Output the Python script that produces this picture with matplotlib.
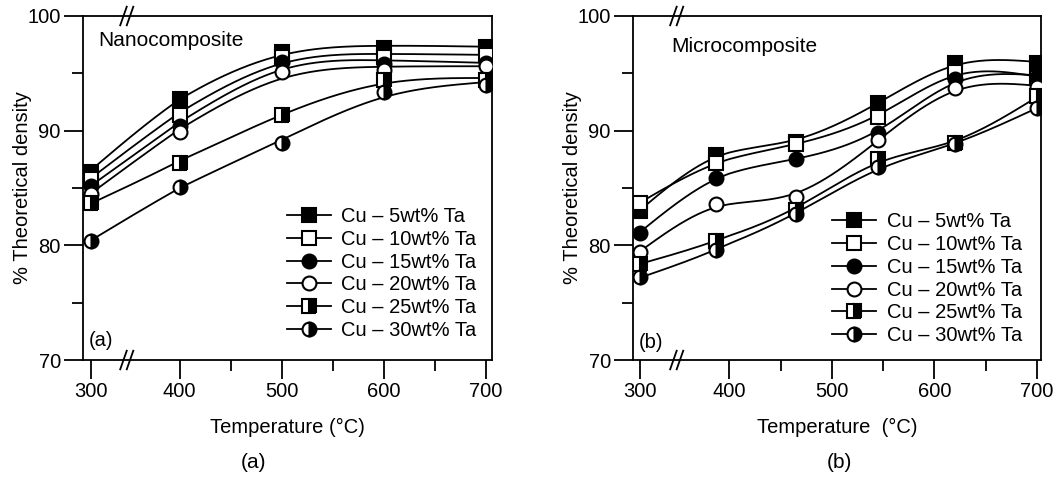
import numpy as np
import matplotlib
matplotlib.use('Agg')
import matplotlib.pyplot as plt

plt.rcParams['font.family'] = ['Liberation Sans', 'DejaVu Sans']

# nanocomposite (a)
temp_nano = [300, 400, 500, 600, 700]
nano_5 = [86.4, 92.8, 96.9, 97.2, 97.3]
nano_10 = [85.8, 91.4, 96.4, 96.4, 96.6]
nano_15 = [85.2, 90.4, 96.0, 95.8, 95.9]
nano_20 = [84.5, 89.9, 95.1, 95.3, 95.6]
nano_25 = [83.7, 87.2, 91.4, 94.4, 94.4]
nano_30 = [80.4, 85.1, 88.9, 93.4, 94.0]

# microcomposite (b)
temp_micro = [300, 385, 465, 545, 620, 700]
micro_5 = [83.0, 87.9, 89.0, 92.4, 95.9, 95.9]
micro_10 = [83.7, 87.2, 88.8, 91.2, 95.1, 94.6]
micro_15 = [81.1, 85.9, 87.5, 89.8, 94.5, 94.7]
micro_20 = [79.4, 83.6, 84.2, 89.2, 93.7, 93.8]
micro_25 = [78.4, 80.4, 83.1, 87.5, 88.9, 93.0]
micro_30 = [77.2, 79.6, 82.7, 86.8, 88.8, 92.0]

labels = ['Cu – 5wt% Ta', 'Cu – 10wt% Ta', 'Cu – 15wt% Ta',
          'Cu – 20wt% Ta', 'Cu – 25wt% Ta', 'Cu – 30wt% Ta']

STYLES = [
    dict(marker='s', markerfacecolor='black'),
    dict(marker='s', markerfacecolor='white'),
    dict(marker='o', markerfacecolor='black'),
    dict(marker='o', markerfacecolor='white'),
    dict(marker='s', markerfacecolor='black', fillstyle='right', markerfacecoloralt='white'),
    dict(marker='o', markerfacecolor='black', fillstyle='right', markerfacecoloralt='white'),
]

SQUEEZE = 0.87  # axis break between 300 and 400


def fwd(x):
    x = np.asarray(x, dtype=float)
    return np.where(x >= 400, x, 400 - (400 - x) * SQUEEZE)


def inv(t):
    t = np.asarray(t, dtype=float)
    return np.where(t >= 400, t, 400 - (400 - t) / SQUEEZE)


def smooth_fit(x, y, lam, n=201):
    # penalised least squares (smoothing spline on a fine grid)
    x = np.asarray(x, float)
    y = np.asarray(y, float)
    u = np.linspace(0, 1, n)
    xu = (x - x[0]) / (x[-1] - x[0])
    idx = np.round(xu * (n - 1)).astype(int)
    dx = 1.0 / (n - 1)
    W = np.zeros((n, n))
    b = np.zeros(n)
    W[idx, idx] = 1
    b[idx] = y
    D = np.diff(np.eye(n), 2, axis=0) / dx**2
    f = np.linalg.solve(W + lam * dx * D.T @ D, b)
    return x[0] + u * (x[-1] - x[0]), f


def break_marks(ax):
    for y0 in (0, 1):
        for dx in (0.0, 0.016):
            ax.plot([0.091 + dx, 0.107 + dx], [y0 - 0.027, y0 + 0.027],
                    transform=ax.transAxes, color='black', lw=1.3, clip_on=False)


def panel(ax, temps, series, lam, xlim, title, title_xy, tag, tag_y, leg_xy, xlabel):
    ax.set_xscale('function', functions=(fwd, inv))
    handles = []
    for vals, st, lab in zip(series, STYLES, labels):
        xs, ys = smooth_fit(temps, vals, lam)
        ax.plot(xs, ys, color='black', lw=1.3, zorder=2)
        ax.plot(temps, vals, linestyle='none', color='black', markersize=10,
                markeredgewidth=1.5, zorder=3, **st)
        h, = ax.plot([], [], color='black', lw=1.3, markersize=10,
                     markeredgewidth=1.5, label=lab, **st)
        handles.append(h)
    ax.set_xlim(*xlim)
    ax.set_ylim(70, 100)
    ax.set_xticks([300, 400, 500, 600, 700])
    ax.set_xticks([450, 550, 650], minor=True)
    ax.set_yticks([70, 80, 90, 100])
    ax.set_yticks([75, 85, 95], minor=True)
    ax.tick_params(which='major', direction='out', length=14, width=1.3,
                   labelsize=14.5, pad=2)
    ax.tick_params(which='minor', direction='out', length=8, width=1.3)
    for s in ax.spines.values():
        s.set_linewidth(1.3)
    ax.set_xlabel(xlabel, fontsize=14.5, labelpad=12)
    ax.set_ylabel('% Theoretical density', fontsize=14.5)
    ax.yaxis.set_label_coords(-0.125, 0.5)
    ax.text(title_xy[0], title_xy[1], title, transform=ax.transAxes,
            fontsize=15, va='center', ha='left')
    ax.text(0.014, tag_y, tag, transform=ax.transAxes, fontsize=14.5,
            va='center', ha='left')
    ax.legend(handles=handles, loc='upper left', bbox_to_anchor=leg_xy,
              frameon=False, fontsize=14.5, numpoints=1, handlelength=2.2,
              handletextpad=0.5, labelspacing=0.19, borderpad=0, borderaxespad=0)
    break_marks(ax)


fig = plt.figure(figsize=(10.6, 4.79), dpi=100)
ax1 = fig.add_axes([0.0783, 0.2484, 0.3858, 0.7182])
ax2 = fig.add_axes([0.5972, 0.2484, 0.3849, 0.7182])

panel(ax1, temp_nano, [nano_5, nano_10, nano_15, nano_20, nano_25, nano_30], 1e-3,
      (291, 706), 'Nanocomposite', (0.037, 0.93), '(a)', 0.058, (0.499, 0.445),
      'Temperature (°C)')
panel(ax2, temp_micro, [micro_5, micro_10, micro_15, micro_20, micro_25, micro_30], 1.5e-4,
      (292, 704), 'Microcomposite', (0.093, 0.91), '(b)', 0.05, (0.488, 0.43),
      'Temperature  (°C)')

fig.text(253 / 1060, 1 - 462 / 479, '(a)', fontsize=15, ha='center', va='center')
fig.text(839 / 1060, 1 - 462 / 479, '(b)', fontsize=15, ha='center', va='center')

fig.savefig('out.png', dpi=100)
